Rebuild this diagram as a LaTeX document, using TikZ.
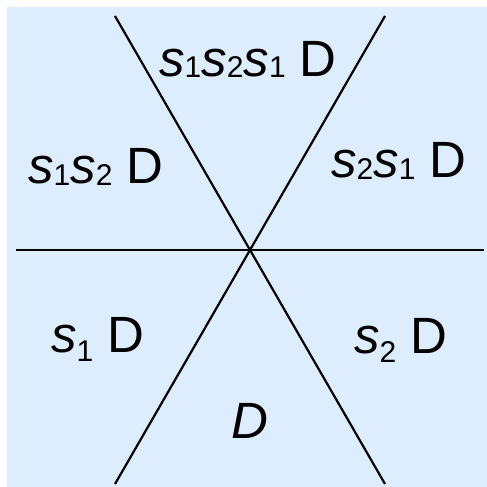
\documentclass[tikz,border=0pt]{standalone}
\usepackage{fontspec}
\setmainfont{Liberation Sans}
\definecolor{bgblue}{RGB}{221,237,253}
\newcommand{\gs}[2]{\textit{s}\raisebox{-#2pt}{\fontsize{30}{30}\selectfont #1}}
\begin{document}
\begin{tikzpicture}[x=1pt,y=-1pt,
  lab/.style={anchor=base west,inner sep=0pt,font=\fontsize{51}{51}\selectfont},
  wall/.style={line width=2.2pt,black}]
\useasboundingbox (0,0) rectangle (487,487);
\fill[bgblue] (7,7) rectangle (487,487);
\coordinate (o) at (250,250);
\coordinate (hl) at (16,250);
\coordinate (hr) at (484,250);
\coordinate (tl) at (115,16);
\coordinate (br) at (385,484);
\coordinate (tr) at (385,16);
\coordinate (bl) at (115,484);
\draw[wall] (hl) -- (hr);
\draw[wall] (tl) -- (br);
\draw[wall] (tr) -- (bl);
\node[lab] (top) at (159,77) {\gs{1}{1}\gs{2}{1}\gs{1}{1} D};
\node[lab] (ul) at (28,183) {\gs{1}{2}\gs{2}{2} D};
\node[lab] (ur) at (331,177) {\gs{2}{2}\gs{1}{2} D};
\node[lab] (ll) at (51,352) {\gs{1}{9} D};
\node[lab] (lr) at (354,353) {\gs{2}{9} D};
\node[lab,anchor=base] (bot) at (250,438) {\textit{D}};
\end{tikzpicture}
\end{document}
